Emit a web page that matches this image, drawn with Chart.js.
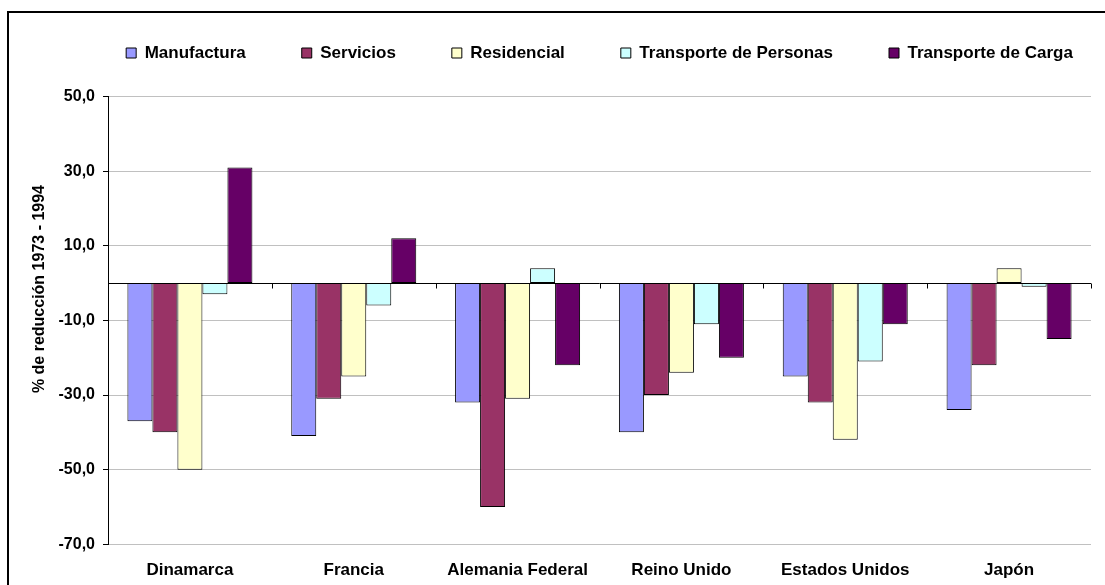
<!DOCTYPE html>
<html>
<head>
<meta charset="utf-8">
<script src="https://cdn.jsdelivr.net/npm/chart.js@4"></script>
<style>
  html, body { margin: 0; padding: 0; background: #fff; overflow: hidden; }
  #wrap { position: relative; width: 1105px; height: 585px; }
  #frame { position: absolute; left: 7px; top: 11px; width: 1200px; height: 700px;
           border: 2px solid #000; pointer-events: none; }
  canvas { position: absolute; left: 0; top: 0; }
</style>
</head>
<body>
<div id="wrap">
  <canvas id="chart" width="1105" height="585"></canvas>
  <div id="frame"></div>
</div>
<script>
// ---------- data ----------
const countries     = ['Dinamarca', 'Francia', 'Alemania Federal', 'Reino Unido', 'Estados Unidos', 'Japón'];
const manufactura   = [-37, -41, -32, -40, -25, -34];
const servicios     = [-40, -31, -60, -30, -32, -22];
const residencial   = [-50, -25, -31, -24, -42,   4];
const transPersonas = [ -3,  -6,   4, -11, -21,  -1];
const transCarga    = [ 31,  12, -22, -20, -11, -15];
const yTitle        = '% de reducción 1973 - 1994';

const FONT = "'Liberation Sans', Arial, sans-serif";

function ds(label, data, color) {
  return { label, data, backgroundColor: color, borderColor: '#000', borderWidth: 1,
           borderSkipped: false, categoryPercentage: 0.763, barPercentage: 1 };
}

// one-row legend over the plot, with extra room below it (Excel layout)
const legendLayout = {
  id: 'legendLayout',
  beforeInit(chart) {
    const fit = chart.legend.fit;
    chart.legend.fit = function () {
      this.maxWidth = 1400;
      fit.call(this);
      this.height += 25;
    };
  },
  afterLayout(chart) {
    const lg = chart.legend, ca = chart.chartArea;
    lg.left = ca.left - 60;
    lg.right = ca.right + 60;
    lg.width = lg.right - lg.left;
  }
};

// zero line, category ticks on it, and the axis title
const extras = {
  id: 'extras',
  afterDatasetsDraw(chart) {
    const { ctx, chartArea, scales: { x, y } } = chart;
    const y0 = Math.round(y.getPixelForValue(0)) + 0.5;
    ctx.save();
    ctx.strokeStyle = '#000';
    ctx.lineWidth = 1;
    ctx.beginPath();
    ctx.moveTo(chartArea.left, y0);
    ctx.lineTo(chartArea.right, y0);
    const step = x.width / countries.length;
    for (let i = 1; i <= countries.length; i++) {
      const px = Math.round(x.left + i * step) + 0.5;
      ctx.moveTo(px, y0);
      ctx.lineTo(px, y0 + 5);
    }
    ctx.stroke();

    ctx.translate(40, chartArea.top + chartArea.height * 0.43);
    ctx.rotate(-Math.PI / 2);
    ctx.font = 'bold 16px ' + FONT;
    ctx.fillStyle = '#000';
    ctx.textAlign = 'center';
    ctx.textBaseline = 'middle';
    ctx.fillText(yTitle, 0, 0);
    ctx.restore();
  }
};

new Chart(document.getElementById('chart'), {
  type: 'bar',
  data: {
    labels: countries,
    datasets: [
      ds('Manufactura', manufactura, '#9999FF'),
      ds('Servicios', servicios, '#993366'),
      ds('Residencial', residencial, '#FFFFCC'),
      ds('Transporte de Personas', transPersonas, '#CCFFFF'),
      ds('Transporte de Carga', transCarga, '#660066')
    ]
  },
  options: {
    responsive: false,
    animation: false,
    devicePixelRatio: 1,
    layout: { padding: { left: 0, right: 14, top: -11.5, bottom: -10.7 } },
    plugins: {
      legend: {
        position: 'top',
        fullSize: false,
        labels: { boxWidth: 10, boxHeight: 10, padding: 56, color: '#000',
                  font: { family: FONT, size: 17, weight: 'bold' } }
      },
      tooltip: { enabled: false }
    },
    scales: {
      x: {
        grid: { display: false, drawTicks: false },
        border: { display: false },
        ticks: { color: '#000', padding: 15.5, maxRotation: 0,
                 font: { family: FONT, size: 17, weight: 'bold' } }
      },
      y: {
        min: -70, max: 50,
        ticks: { stepSize: 20, color: '#000', padding: 8,
                 font: { family: FONT, size: 16, weight: 'bold' },
                 callback: v => v.toFixed(1).replace('.', ',') },
        grid: { color: '#c0c0c0', tickColor: '#000', tickLength: 5 },
        border: { display: true, color: '#000', width: 1 },
        afterFit(scale) { scale.width = 108; }
      }
    }
  },
  plugins: [legendLayout, extras]
});
</script>
</body>
</html>
